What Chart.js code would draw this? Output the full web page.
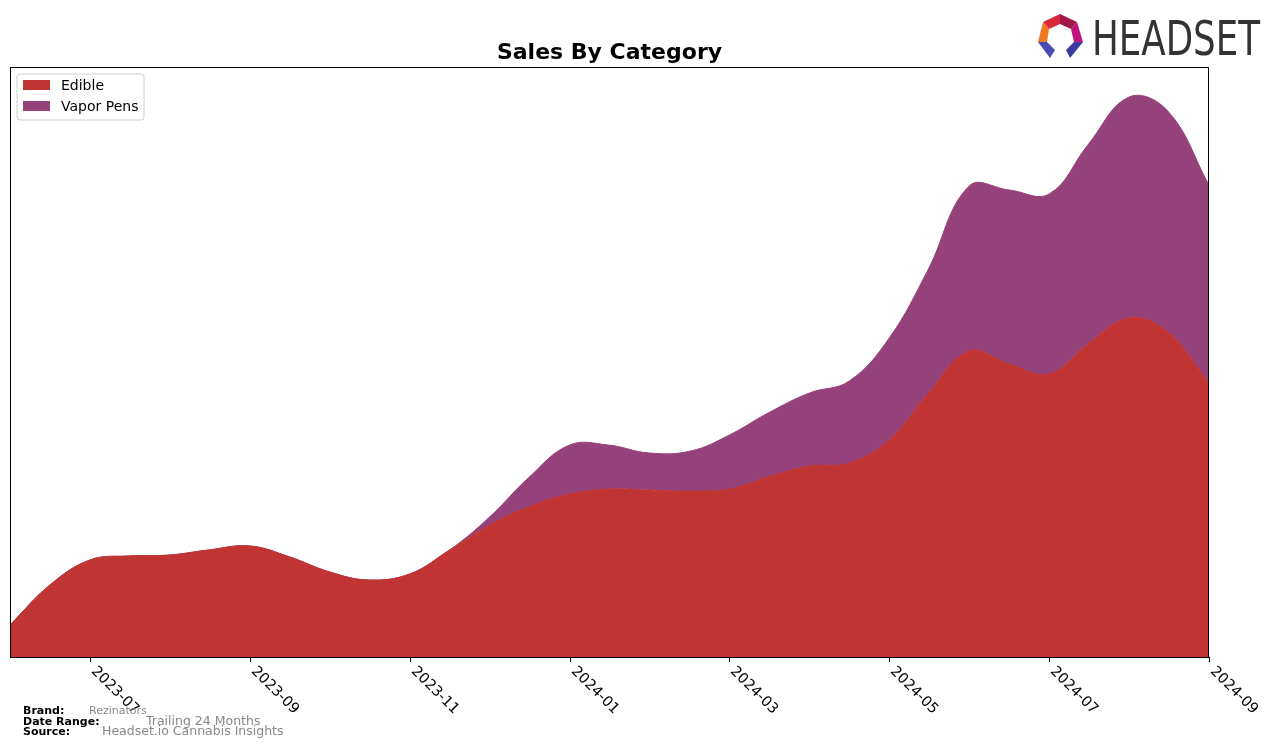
<!DOCTYPE html>
<html>
<head>
<meta charset="utf-8">
<script src="https://cdn.jsdelivr.net/npm/chart.js@4.4.1/dist/chart.umd.min.js"></script>
<style>
  html, body { margin: 0; padding: 0; background: #fff; }
  #wrap { width: 1276px; height: 747px; position: relative; }
</style>
</head>
<body>
<div id="wrap"><canvas id="salesChart" width="1276" height="747"></canvas></div>
<script>
// Sample dates (1st and 16th of each month)
const dates = [
  "2023-06-01", "2023-06-16", "2023-07-01", "2023-07-16", "2023-08-01", "2023-08-16",
  "2023-09-01", "2023-09-16", "2023-10-01", "2023-10-16", "2023-11-01", "2023-11-16",
  "2023-12-01", "2023-12-16", "2024-01-01", "2024-01-16", "2024-02-01", "2024-02-16",
  "2024-03-01", "2024-03-16", "2024-04-01", "2024-04-16", "2024-05-01", "2024-05-16",
  "2024-06-01", "2024-06-16", "2024-07-01", "2024-07-16", "2024-08-01", "2024-08-16",
  "2024-09-01"
];

// Series values (relative units)
const edible = [
  32, 72, 97, 101, 102, 107, 111, 100, 85, 77, 83, 107,
  132, 150, 163, 168, 167, 166, 168, 180, 191, 194, 217, 263,
  306, 293, 283, 313, 339, 325, 274
];
const vaporPens = [
  0, 0, 0, 0, 0, 0, 0, 0, 0, 0, 0, 0,
  8, 29, 49, 44, 37, 40, 54, 64, 73, 82, 102, 124,
  165, 174, 180, 199, 221, 221, 198
];

// Tick labels shown on the x axis
const tickLabels = ["2023-07", "2023-09", "2023-11", "2024-01", "2024-03", "2024-05", "2024-07", "2024-09"];

const categories = ["Edible", "Vapor Pens"];
const colors = ["#c03434", "#96427a"];

// Convert "YYYY-MM-DD" into a fractional month index from 2023-06
const toMonthIndex = (s) => {
  const [y, m, d] = s.split("-").map(Number);
  const daysInMonth = new Date(y, m, 0).getDate();
  return (y - 2023) * 12 + (m - 6) + (d - 1) / daysInMonth;
};

const xValues = dates.map(toMonthIndex);
const tickValues = tickLabels.map((t) => toMonthIndex(t + "-01"));

const makeSeries = (vals) => vals.map((v, i) => ({ x: xValues[i], y: v }));

// Draws the frame, rotated tick labels, legend, title, logo and footer
const decorPlugin = {
  id: "decor",
  afterDraw(chart) {
    const { ctx, chartArea } = chart;
    const xScale = chart.scales.x;
    ctx.save();

    // frame round the plot
    ctx.strokeStyle = "#000";
    ctx.lineWidth = 1;
    ctx.strokeRect(chartArea.left + 0.5, chartArea.top + 0.5,
      chartArea.right - chartArea.left - 1, chartArea.bottom - chartArea.top);

    // tick marks and rotated labels
    ctx.fillStyle = "#000";
    ctx.font = "14.5px 'DejaVu Sans'";
    tickValues.forEach((v, i) => {
      const x = Math.round(xScale.getPixelForValue(v)) + 0.5;
      ctx.beginPath();
      ctx.moveTo(x, chartArea.bottom);
      ctx.lineTo(x, chartArea.bottom + 5);
      ctx.stroke();
      ctx.save();
      ctx.translate(x + 3, chartArea.bottom + 12);
      ctx.rotate(Math.PI / 4);
      ctx.textAlign = "left";
      ctx.textBaseline = "middle";
      ctx.fillText(tickLabels[i], 0, 0);
      ctx.restore();
    });

    // legend
    const lx = 17, ly = 74, lw = 127, lh = 46, r = 3;
    ctx.beginPath();
    ctx.moveTo(lx + r, ly);
    ctx.arcTo(lx + lw, ly, lx + lw, ly + lh, r);
    ctx.arcTo(lx + lw, ly + lh, lx, ly + lh, r);
    ctx.arcTo(lx, ly + lh, lx, ly, r);
    ctx.arcTo(lx, ly, lx + lw, ly, r);
    ctx.closePath();
    ctx.fillStyle = "rgba(255,255,255,0.8)";
    ctx.fill();
    ctx.strokeStyle = "#d0d0d0";
    ctx.stroke();
    ctx.font = "14px 'DejaVu Sans'";
    ctx.textAlign = "left";
    ctx.textBaseline = "middle";
    chart.data.datasets.forEach((ds, i) => {
      const yy = 85 + i * 21;
      ctx.fillStyle = ds.backgroundColor;
      ctx.fillRect(23, yy - 5, 27, 10);
      ctx.fillStyle = "#000";
      ctx.fillText(ds.label, 61, yy + 1);
    });

    // title
    ctx.fillStyle = "#000";
    ctx.font = "bold 22px 'DejaVu Sans'";
    ctx.textAlign = "center";
    ctx.textBaseline = "alphabetic";
    ctx.fillText("Sales By Category", (chartArea.left + chartArea.right) / 2, 59);

    // logo mark
    const poly = (pts, c) => {
      ctx.beginPath();
      ctx.moveTo(pts[0][0], pts[0][1]);
      pts.slice(1).forEach((p) => ctx.lineTo(p[0], p[1]));
      ctx.closePath();
      ctx.fillStyle = c;
      ctx.fill();
    };
    poly([[1043, 22], [1060, 14], [1060, 24], [1049, 29]], "#d8283a");
    poly([[1060, 14], [1077, 22], [1071, 29], [1060, 24]], "#a3184a");
    poly([[1077, 22], [1083, 42], [1074, 42], [1071, 29]], "#c0147a");
    poly([[1043, 22], [1049, 29], [1047, 42], [1038, 42]], "#f07a22");
    poly([[1038, 42], [1047, 42], [1055, 50], [1050, 58]], "#4a4bb8");
    poly([[1074, 42], [1083, 42], [1070, 58], [1066, 50]], "#3a3aa0");
    ctx.fillStyle = "#333";
    ctx.font = "48px 'DejaVu Sans Condensed'";
    ctx.textAlign = "left";
    ctx.textBaseline = "alphabetic";
    const logoW = ctx.measureText("HEADSET").width;
    ctx.save();
    ctx.translate(1092, 55);
    ctx.scale(168 / logoW, 1);
    ctx.fillText("HEADSET", 0, 0);
    ctx.restore();

    // footer
    ctx.font = "bold 11px 'DejaVu Sans'";
    ctx.fillStyle = "#000";
    ctx.fillText("Brand:", 23, 714);
    ctx.fillText("Date Range:", 23, 725);
    ctx.fillText("Source:", 23, 735);
    ctx.fillStyle = "#888";
    ctx.font = "11px 'DejaVu Sans'";
    ctx.fillText("Rezinators", 89, 714);
    ctx.font = "12.5px 'DejaVu Sans'";
    ctx.fillText("Trailing 24 Months", 146, 725);
    ctx.fillText("Headset.io Cannabis Insights", 102, 735);

    ctx.restore();
  },
};

const ctx = document.getElementById("salesChart").getContext("2d");
new Chart(ctx, {
  type: "line",
  data: {
    datasets: [
      {
        label: categories[0],
        data: makeSeries(edible),
        backgroundColor: colors[0],
        borderColor: colors[0],
        borderWidth: 1,
        fill: "origin",
        pointRadius: 0,
        tension: 0.4,
      },
      {
        label: categories[1],
        data: makeSeries(vaporPens),
        backgroundColor: colors[1],
        borderColor: colors[1],
        borderWidth: 1,
        fill: "-1",
        pointRadius: 0,
        tension: 0.4,
      },
    ],
  },
  options: {
    responsive: false,
    animation: false,
    layout: { padding: { left: 10, right: 67, top: 67, bottom: 0 } },
    plugins: {
      legend: { display: false },
      title: { display: false },
      tooltip: { enabled: false },
    },
    scales: {
      x: {
        type: "linear",
        min: 0,
        max: 15,
        grid: { display: false },
        border: { display: false },
        ticks: { display: false },
        afterFit: (scale) => { scale.height = 90; },
      },
      y: {
        stacked: true,
        display: false,
        min: 0,
        max: 590,
      },
    },
  },
  plugins: [decorPlugin],
});
</script>
</body>
</html>
